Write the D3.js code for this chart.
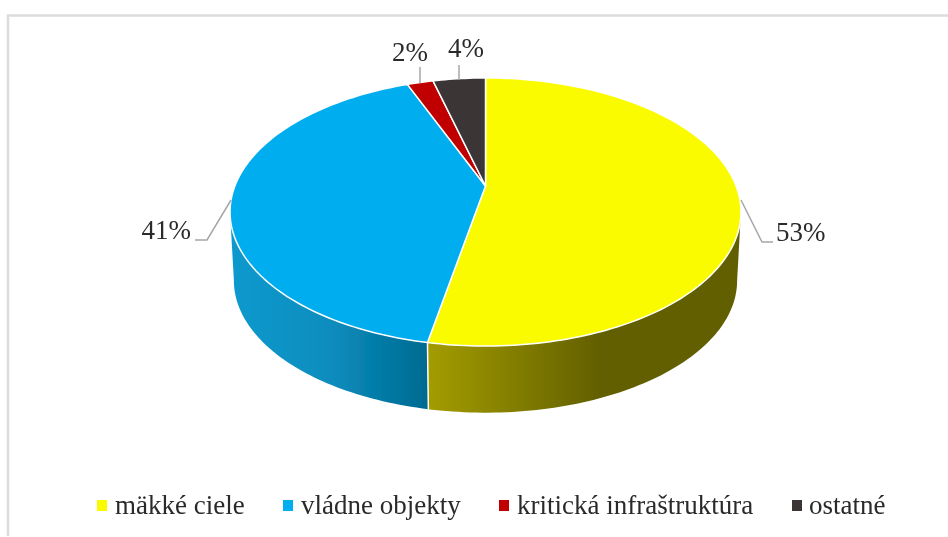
<!DOCTYPE html>
<html>
<head>
<meta charset="utf-8">
<script src="https://cdn.jsdelivr.net/npm/d3@7"></script>
<style>
  html, body { margin: 0; padding: 0; background: #fff; }
  svg { display: block; }
  text { font-family: "Liberation Serif", serif; fill: #2a2a2a; }
</style>
</head>
<body>
<script>
// data
var categories = ["mäkké ciele", "vládne objekty", "kritická infraštruktúra", "ostatné"];
var values = [53, 41, 2, 4];
var labels = ["53%", "41%", "2%", "4%"];
var colors = ["#fbfb00", "#00aeef", "#c00000", "#3b3536"];

// svg container
var width = 948;
var height = 537;

var svg = d3.select("body").append("svg")
    .attr("width", width)
    .attr("height", height);

var defs = svg.append("defs");

// the reference is a slightly soft screenshot
defs.append("filter")
    .attr("id", "soft")
    .append("feGaussianBlur")
    .attr("stdDeviation", 0.4);

var chart = svg.append("g").attr("filter", "url(#soft)");

// frame, only top and left sides show in the picture
chart.append("path")
    .attr("d", "M8,536V15.5H948")
    .attr("fill", "none")
    .attr("stroke", "#dcdcdc")
    .attr("stroke-width", 2.5);

// pie geometry, tilted with a bit of perspective
var centerX = 485.5, centerY = 186;
var radiusX = 250.6, radiusY = 129;
var persp = 0.194;
var depth = 69, bottomScale = 0.985;

function project(angle, scale, dy) {
  var d = 1 + persp * Math.cos(angle);
  return [
    centerX + scale * radiusX * Math.sin(angle) / d,
    centerY + dy + scale * radiusY * -Math.cos(angle) / d
  ];
}

function samples(a0, a1) {
  var n = Math.max(2, Math.ceil(Math.abs(a1 - a0) / 0.02));
  return d3.range(n + 1).map(i => a0 + (a1 - a0) * i / n);
}

var line = d3.line();

var pie = d3.pie().sort(null).value(d => d);
var slices = pie(values);

// gradients for the rim
function rimGradient(id, x1, x2, stops) {
  var g = defs.append("linearGradient")
      .attr("id", id)
      .attr("gradientUnits", "userSpaceOnUse")
      .attr("x1", x1).attr("x2", x2)
      .attr("y1", 0).attr("y2", 0);
  stops.forEach(s => g.append("stop").attr("offset", s[0]).attr("stop-color", s[1]));
}
rimGradient("rimYellow", 429, 600, [[0, "#a39c00"], [1, "#625f00"]]);
rimGradient("rimBlue", 232, 428, [[0, "#1099ce"], [0.5, "#0a8dbe"], [1, "#006a90"]]);

// rim, only the two front slices reach it
var extreme = Math.acos(-persp);
var rims = [
  { a0: extreme, a1: slices[0].endAngle, fill: "url(#rimYellow)" },
  { a0: slices[1].startAngle, a1: 2 * Math.PI - extreme, fill: "url(#rimBlue)" }
];

chart.selectAll("path.rim")
    .data(rims)
    .enter()
    .append("path")
    .attr("class", "rim")
    .attr("d", d => {
      var top = samples(d.a0, d.a1).map(a => project(a, 1, 0));
      var bottom = samples(d.a1, d.a0).map(a => project(a, bottomScale, depth));
      return line(top.concat(bottom)) + "Z";
    })
    .attr("fill", d => d.fill);

// white seam between the two rim parts
chart.append("path")
    .attr("d", line([project(slices[0].endAngle, 1, 0), project(slices[0].endAngle, bottomScale, depth)]))
    .attr("stroke", "#fff")
    .attr("stroke-width", 1.5);

// top face
chart.selectAll("path.slice")
    .data(slices)
    .enter()
    .append("path")
    .attr("class", "slice")
    .attr("d", d => {
      var pts = samples(d.startAngle, d.endAngle).map(a => project(a, 1, 0));
      return line([[centerX, centerY]].concat(pts)) + "Z";
    })
    .attr("fill", (d, i) => colors[i])
    .attr("stroke", "#fff")
    .attr("stroke-width", 1.5)
    .attr("stroke-linejoin", "round");

// data labels with leader lines
var labelPos = [
  { x: 776, y: 241, anchor: "start", leader: [[741, 200], [762, 242], [773, 242]] },
  { x: 191, y: 239, anchor: "end", leader: [[231, 200], [207, 240], [195, 240]] },
  { x: 410, y: 61, anchor: "middle", leader: [[420, 67], [420, 83]] },
  { x: 466, y: 57, anchor: "middle", leader: [[459, 65], [459, 80]] }
];

chart.selectAll("path.leader")
    .data(labelPos)
    .enter()
    .append("path")
    .attr("class", "leader")
    .attr("d", d => line(d.leader))
    .attr("fill", "none")
    .attr("stroke", "#a6a6a6")
    .attr("stroke-width", 1.5);

chart.selectAll("text.label")
    .data(labelPos)
    .enter()
    .append("text")
    .attr("class", "label")
    .attr("x", d => d.x)
    .attr("y", d => d.y)
    .attr("text-anchor", d => d.anchor)
    .attr("font-size", 27)
    .text((d, i) => labels[i]);

// legend
var legendSwatchX = [97, 283, 499, 792];
var legendTextX = [115, 301, 517, 809];

var legend = chart.selectAll("g.legend")
    .data(categories)
    .enter()
    .append("g")
    .attr("class", "legend");

legend.append("rect")
    .attr("x", (d, i) => legendSwatchX[i])
    .attr("y", 500)
    .attr("width", 10)
    .attr("height", 11)
    .attr("fill", (d, i) => colors[i]);

legend.append("text")
    .attr("x", (d, i) => legendTextX[i])
    .attr("y", 514)
    .attr("font-size", 27)
    .text(d => d);
</script>
</body>
</html>
